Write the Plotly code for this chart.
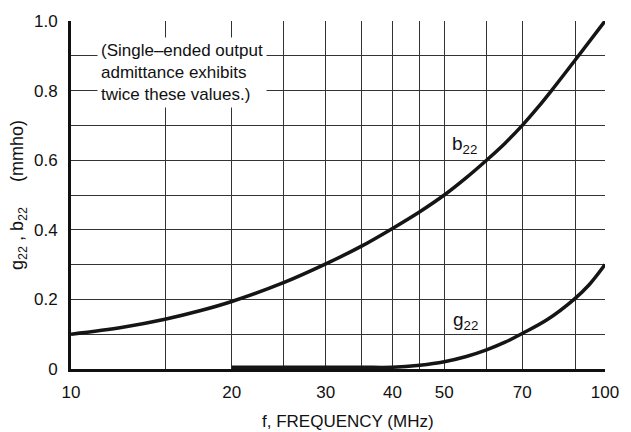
import plotly.graph_objects as go

# Data
freq_b = [10, 12.5, 15, 17.5, 20, 25, 30, 35, 40, 45, 50, 55, 60, 65, 70, 75, 79.4, 89.2, 100]
b22 = [0.100, 0.120, 0.143, 0.168, 0.194, 0.248, 0.302, 0.353, 0.404, 0.452,
       0.500, 0.550, 0.600, 0.649, 0.700, 0.753, 0.800, 0.900, 1.000]

freq_g = [20, 25, 30, 35, 40, 45, 50, 55, 60, 65, 70, 78, 87.5, 93.4, 100]
g22 = [0.005, 0.005, 0.005, 0.005, 0.005, 0.011, 0.021, 0.036, 0.055, 0.077,
       0.102, 0.142, 0.200, 0.242, 0.300]

x_grid = [10, 15, 20, 25, 30, 35, 40, 45, 50, 60, 70, 88, 100]
x_text = ["10", "", "20", "", "30", "", "40", "", "50", "", "70", "", "100"]
y_vals = [0, 0.1, 0.2, 0.3, 0.4, 0.5, 0.6, 0.7, 0.8, 0.9, 1.0]
y_text = ["0", "", "0.2", "", "0.4", "", "0.6", "", "0.8", "", "1.0"]

FONT = "Liberation Sans, Arial, sans-serif"
GRID = "#333333"
INK = "#111111"

fig = go.Figure()
fig.add_trace(go.Scatter(x=freq_b, y=b22, mode="lines",
                         line=dict(color="#151515", width=3.5, shape="spline", smoothing=1.0),
                         showlegend=False, hoverinfo="skip"))
fig.add_trace(go.Scatter(x=freq_g, y=g22, mode="lines",
                         line=dict(color="#151515", width=3.5, shape="spline", smoothing=1.0),
                         showlegend=False, hoverinfo="skip"))

fig.update_layout(
    width=631, height=432,
    margin=dict(l=71, r=17, t=19, b=63),
    paper_bgcolor="white", plot_bgcolor="white",
    font=dict(family=FONT, size=17, color=INK),
    xaxis=dict(type="log", range=[1, 2], tickmode="array", tickvals=x_grid, ticktext=x_text,
               showgrid=True, gridcolor=GRID, gridwidth=1,
               showline=True, linecolor=INK, linewidth=3, mirror=False,
               ticks="", zeroline=False, ticklabelstandoff=6),
    yaxis=dict(range=[0, 1], tickmode="array", tickvals=y_vals, ticktext=y_text,
               showgrid=True, gridcolor=GRID, gridwidth=1,
               showline=True, linecolor=INK, linewidth=3, mirror=False,
               ticks="", zeroline=False, ticklabelstandoff=7,
               title=dict(text="g<sub>22</sub>\u00a0,\u00a0b<sub>22</sub>\u00a0\u00a0\u00a0\u00a0\u00a0(mmho)",
                          standoff=6, font=dict(size=18))),
)

fig.add_annotation(xref="paper", yref="paper", x=0.519, y=-0.1514, xanchor="center", yanchor="middle",
                   text="f, FREQUENCY (MHz)", showarrow=False,
                   font=dict(size=17, family=FONT, color=INK))
fig.add_annotation(xref="paper", yref="paper", x=0.048, y=0.954, xanchor="left", yanchor="top",
                   text="(Single\u2013ended output<br>admittance exhibits<br>twice these values.)",
                   align="left", showarrow=False, bgcolor="white", borderpad=3,
                   font=dict(size=17, family=FONT, color=INK))
fig.add_annotation(xref="paper", yref="paper", x=0.709, y=0.645, xanchor="left", yanchor="middle",
                   text="b<sub>22</sub>", showarrow=False, font=dict(size=19, family=FONT, color=INK))
fig.add_annotation(xref="paper", yref="paper", x=0.711, y=0.137, xanchor="left", yanchor="middle",
                   text="g<sub>22</sub>", showarrow=False, font=dict(size=19, family=FONT, color=INK))

fig.write_html("out.html")
